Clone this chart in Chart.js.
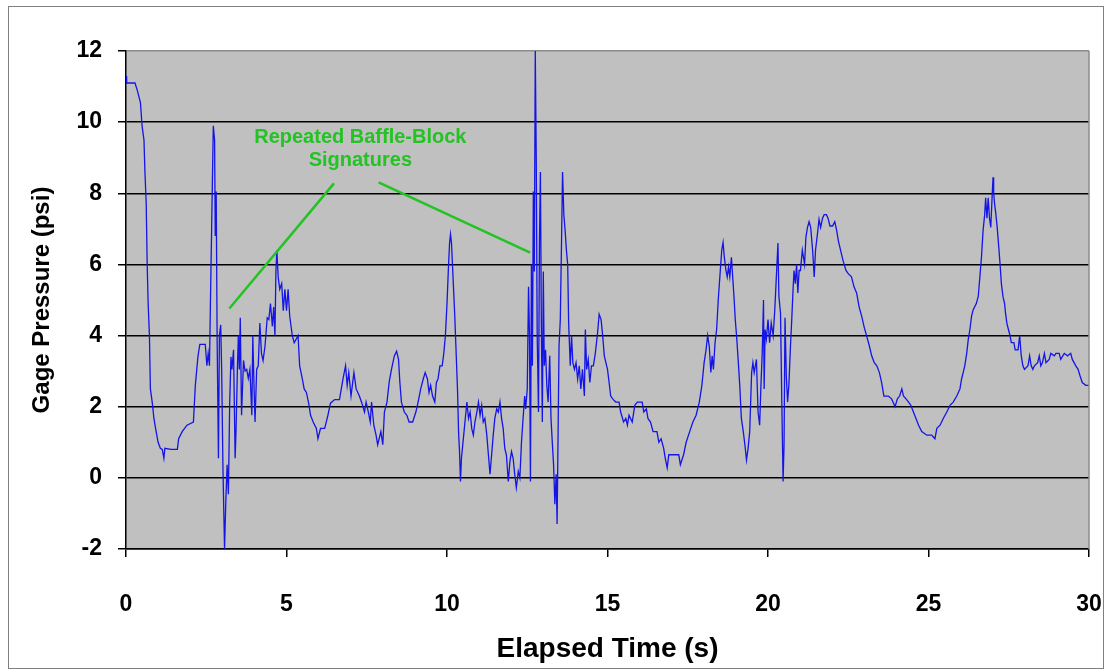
<!DOCTYPE html>
<html>
<head>
<meta charset="utf-8">
<script src="https://cdn.jsdelivr.net/npm/chart.js@4.4.1/dist/chart.umd.min.js"></script>
<style>
  html, body { margin: 0; padding: 0; background: #fff; }
  #wrap { width: 1112px; height: 670px; position: relative; }
</style>
</head>
<body>
<div id="wrap"><canvas id="pressure"></canvas></div>
<script>
// elapsed time (s) and gage pressure (psi)
const timeS = [
  0.00, 0.02, 0.28, 0.35, 0.45, 0.50, 0.56, 0.59, 0.63, 0.66, 0.69, 0.73, 0.76, 0.82, 0.87, 0.92,
  1.00, 1.07, 1.13, 1.18, 1.21, 1.40, 1.60, 1.64, 1.75, 1.90, 2.10, 2.16, 2.24, 2.30, 2.47, 2.52,
  2.56, 2.60, 2.63, 2.68, 2.72, 2.76, 2.78, 2.81, 2.84, 2.88, 2.91, 2.95, 2.98, 3.02, 3.05, 3.07,
  3.11, 3.15, 3.19, 3.23, 3.27, 3.30, 3.35, 3.40, 3.43, 3.47, 3.50, 3.53, 3.56, 3.60, 3.66, 3.71,
  3.76, 3.81, 3.86, 3.92, 3.95, 3.99, 4.02, 4.07, 4.12, 4.17, 4.22, 4.27, 4.33, 4.40, 4.45, 4.50,
  4.56, 4.60, 4.64, 4.67, 4.70, 4.74, 4.79, 4.85, 4.90, 4.95, 5.00, 5.05, 5.10, 5.18, 5.24, 5.36,
  5.41, 5.49, 5.55, 5.62, 5.69, 5.75, 5.83, 5.93, 5.98, 6.06, 6.19, 6.29, 6.37, 6.50, 6.65, 6.76,
  6.84, 6.89, 6.94, 7.01, 7.10, 7.17, 7.27, 7.35, 7.43, 7.48, 7.55, 7.61, 7.65, 7.72, 7.79, 7.84,
  7.94, 8.00, 8.05, 8.13, 8.20, 8.27, 8.36, 8.43, 8.49, 8.53, 8.58, 8.67, 8.75, 8.82, 8.93, 9.03,
  9.10, 9.18, 9.26, 9.32, 9.39, 9.44, 9.49, 9.55, 9.62, 9.67, 9.72, 9.78, 9.85, 9.90, 9.95, 10.00,
  10.04, 10.08, 10.11, 10.14, 10.17, 10.21, 10.24, 10.29, 10.33, 10.36, 10.39, 10.42, 10.45, 10.52, 10.57, 10.62,
  10.67, 10.72, 10.77, 10.82, 10.87, 10.93, 10.98, 11.03, 11.08, 11.13, 11.18, 11.24, 11.29, 11.34, 11.39, 11.44,
  11.49, 11.55, 11.60, 11.65, 11.70, 11.75, 11.80, 11.85, 11.91, 11.96, 12.01, 12.06, 12.11, 12.16, 12.22, 12.27,
  12.32, 12.37, 12.42, 12.45, 12.50, 12.54, 12.57, 12.60, 12.63, 12.66, 12.69, 12.72, 12.75, 12.78, 12.81, 12.85,
  12.88, 12.91, 12.94, 12.97, 13.00, 13.03, 13.07, 13.11, 13.15, 13.20, 13.24, 13.28, 13.32, 13.36, 13.40, 13.43,
  13.46, 13.49, 13.53, 13.57, 13.60, 13.64, 13.68, 13.72, 13.76, 13.79, 13.84, 13.88, 13.92, 13.97, 14.02, 14.07,
  14.12, 14.17, 14.22, 14.28, 14.31, 14.35, 14.40, 14.45, 14.50, 14.56, 14.62, 14.69, 14.74, 14.80, 14.85, 14.90,
  15.00, 15.05, 15.10, 15.18, 15.26, 15.36, 15.41, 15.50, 15.57, 15.62, 15.67, 15.77, 15.85, 15.93, 16.08, 16.13,
  16.21, 16.26, 16.34, 16.42, 16.54, 16.60, 16.67, 16.75, 16.80, 16.86, 16.91, 17.06, 17.22, 17.27, 17.37, 17.45,
  17.56, 17.66, 17.76, 17.86, 17.94, 18.01, 18.07, 18.12, 18.17, 18.22, 18.26, 18.30, 18.35, 18.40, 18.45, 18.50,
  18.56, 18.60, 18.64, 18.69, 18.73, 18.77, 18.81, 18.86, 18.90, 18.94, 18.98, 19.02, 19.07, 19.12, 19.17, 19.23,
  19.28, 19.33, 19.38, 19.43, 19.46, 19.49, 19.53, 19.57, 19.64, 19.69, 19.74, 19.78, 19.82, 19.86, 19.88, 19.91,
  19.95, 20.00, 20.05, 20.10, 20.16, 20.21, 20.26, 20.31, 20.34, 20.39, 20.43, 20.47, 20.50, 20.53, 20.57, 20.61,
  20.65, 20.70, 20.74, 20.78, 20.81, 20.85, 20.89, 20.93, 20.97, 21.01, 21.07, 21.14, 21.18, 21.23, 21.28, 21.33,
  21.39, 21.44, 21.48, 21.54, 21.59, 21.64, 21.70, 21.75, 21.82, 21.87, 21.93, 22.01, 22.08, 22.14, 22.19, 22.26,
  22.34, 22.43, 22.50, 22.60, 22.68, 22.76, 22.84, 22.92, 22.99, 23.07, 23.16, 23.23, 23.31, 23.39, 23.47, 23.54,
  23.61, 23.75, 23.85, 23.96, 24.03, 24.10, 24.17, 24.22, 24.30, 24.38, 24.45, 24.53, 24.61, 24.69, 24.79, 24.95,
  25.10, 25.20, 25.26, 25.36, 25.46, 25.57, 25.67, 25.77, 25.88, 25.98, 26.03, 26.08, 26.13, 26.19, 26.24, 26.29,
  26.34, 26.39, 26.49, 26.55, 26.60, 26.65, 26.70, 26.75, 26.78, 26.82, 26.86, 26.90, 26.94, 26.98, 27.01, 27.03,
  27.06, 27.10, 27.14, 27.19, 27.23, 27.27, 27.32, 27.37, 27.40, 27.44, 27.49, 27.54, 27.58, 27.66, 27.70, 27.79,
  27.84, 27.89, 27.94, 27.99, 28.10, 28.15, 28.20, 28.25, 28.30, 28.40, 28.45, 28.50, 28.55, 28.61, 28.66, 28.76,
  28.81, 28.92, 28.97, 29.07, 29.12, 29.23, 29.33, 29.43, 29.48, 29.59, 29.66, 29.72, 29.79, 29.90, 30.00
];
const pressurePsi = [
  11.3, 11.1, 11.1, 10.9, 10.55, 9.9, 9.5, 8.6, 7.7, 6.0, 4.9, 4.0, 2.5, 2.1, 1.67, 1.4,
  1.0, 0.83, 0.8, 0.55, 0.83, 0.8, 0.8, 1.1, 1.3, 1.48, 1.57, 2.6, 3.4, 3.75, 3.75, 3.15,
  3.5, 3.15, 4.9, 7.7, 9.9, 9.5, 6.8, 8.05, 3.8, 0.55, 4.0, 4.3, 3.05, 0.3, -1.1, -2.0,
  -0.65, 0.37, -0.46, 2.1, 3.4, 3.05, 3.6, 0.55, 1.4, 3.05, 4.0, 3.05, 4.5, 1.76, 3.3, 3.0,
  3.05, 2.8, 3.05, 1.76, 4.0, 2.5, 1.57, 3.05, 3.15, 4.35, 3.5, 3.3, 3.7, 4.5, 4.45, 4.9,
  4.26, 4.8, 4.0, 5.8, 6.4, 5.65, 5.3, 5.46, 4.7, 5.3, 4.7, 5.3, 4.55, 4.0, 3.8, 4.0,
  3.15, 2.8, 2.5, 2.4, 2.1, 1.76, 1.57, 1.39, 1.1, 1.39, 1.39, 1.76, 2.1, 2.2, 2.2, 2.78,
  3.15, 2.6, 2.96, 2.3, 2.96, 2.5, 2.3, 2.1, 1.85, 2.13, 1.85, 1.57, 2.13, 1.48, 1.2, 0.93,
  1.3, 0.93, 1.85, 2.13, 2.7, 3.05, 3.43, 3.56, 3.33, 2.7, 2.13, 1.85, 1.76, 1.57, 1.57, 1.85,
  2.13, 2.5, 2.78, 2.96, 2.78, 2.4, 2.6, 2.3, 2.13, 2.68, 2.78, 3.15, 3.15, 3.5, 4.0, 4.9,
  5.8, 6.6, 6.85, 6.6, 6.0, 5.2, 4.6, 3.4, 2.4, 1.3, 0.74, -0.1, 0.55, 1.2, 1.67, 2.13,
  1.67, 1.85, 1.39, 1.2, 1.57, 1.85, 2.13, 1.76, 2.04, 1.57, 1.67, 1.2, 0.65, 0.1, 0.65, 1.2,
  1.67, 1.94, 1.85, 2.13, 1.67, 1.39, 0.83, 0.65, -0.1, 0.46, 0.74, 0.55, 0.1, -0.28, 0.18, 0.0,
  1.0, 1.67, 2.3, 1.94, 2.5, 5.37, 4.0, -0.1, 6.0, 3.15, 8.05, 5.8, 12.0, 9.07, 4.0, 1.85,
  6.6, 8.6, 4.26, 1.57, 5.8, 3.15, 3.6, 2.6, 2.13, 3.43, 1.67, 1.0, 0.37, -0.74, 0.1, -1.3,
  1.2, 3.7, 4.45, 6.76, 8.6, 7.4, 6.95, 6.4, 6.0, 4.35, 3.15, 4.0, 3.24, 3.05, 3.24, 2.78,
  3.15, 2.5, 3.05, 2.3, 4.17, 3.05, 3.33, 2.68, 3.15, 3.15, 3.5, 4.07, 4.6, 4.45, 4.0, 3.43,
  3.05, 2.68, 2.3, 2.2, 2.13, 2.13, 1.85, 1.57, 1.67, 1.48, 1.76, 1.57, 2.04, 2.13, 2.13, 1.85,
  1.94, 1.67, 1.57, 1.3, 1.3, 1.0, 1.1, 0.83, 0.55, 0.28, 0.65, 0.65, 0.65, 0.37, 0.65, 1.0,
  1.3, 1.57, 1.76, 2.13, 2.6, 3.24, 3.6, 4.0, 3.7, 2.96, 3.43, 3.05, 3.8, 4.17, 5.0, 5.65,
  6.4, 6.62, 6.2, 5.83, 5.65, 5.93, 5.65, 6.2, 5.65, 5.1, 4.45, 4.0, 3.33, 2.6, 1.67, 1.3,
  0.93, 0.5, 0.83, 1.3, 2.13, 2.96, 3.24, 2.96, 3.33, 1.85, 1.48, 2.6, 3.5, 5.0, 2.5, 4.17,
  3.9, 4.45, 3.8, 4.35, 4.0, 4.7, 5.65, 6.6, 5.1, 4.63, 2.13, -0.1, 0.93, 4.5, 2.87, 2.13,
  2.6, 3.7, 4.45, 5.28, 5.83, 5.46, 6.0, 5.2, 5.83, 5.83, 6.4, 6.0, 6.76, 7.04, 7.2, 7.04,
  6.4, 5.65, 6.4, 6.85, 7.27, 7.04, 7.3, 7.4, 7.4, 7.3, 7.08, 7.08, 7.2, 6.95, 6.67, 6.4,
  6.1, 5.83, 5.74, 5.65, 5.37, 5.2, 4.8, 4.54, 4.26, 4.0, 3.7, 3.43, 3.24, 3.15, 2.96, 2.68,
  2.3, 2.3, 2.22, 2.0, 2.22, 2.3, 2.5, 2.3, 2.22, 2.13, 2.04, 1.85, 1.67, 1.48, 1.3, 1.2,
  1.2, 1.1, 1.39, 1.48, 1.67, 1.85, 2.04, 2.13, 2.3, 2.5, 2.78, 2.96, 3.15, 3.5, 3.9, 4.17,
  4.54, 4.72, 4.9, 5.1, 5.65, 6.2, 6.95, 7.4, 7.87, 7.3, 7.87, 7.3, 7.04, 7.87, 8.45, 8.0,
  7.7, 7.4, 7.04, 6.48, 6.0, 5.46, 5.1, 4.9, 4.63, 4.35, 4.17, 4.0, 3.8, 3.8, 3.6, 3.6,
  4.0, 3.43, 3.15, 3.05, 3.15, 3.43, 3.15, 3.05, 3.15, 3.24, 3.43, 3.15, 3.24, 3.5, 3.24, 3.33,
  3.5, 3.43, 3.5, 3.5, 3.33, 3.5, 3.43, 3.5, 3.33, 3.15, 3.05, 2.87, 2.68, 2.6, 2.6
];

const xTickValues = [0, 5, 10, 15, 20, 25, 30];
const yTickValues = [-2, 0, 2, 4, 6, 8, 10, 12];

// annotation: text anchor and the two pointer lines, in data units (s, psi)
const noteText = ['Repeated Baffle-Block', 'Signatures'];
const noteAnchor = [7.3, 9.57];
const notePointers = [
  [[3.22, 4.76], [6.48, 8.28]],
  [[7.87, 8.31], [12.59, 6.33]]
];

const FONT = "'Liberation Sans', Arial, sans-serif";

const chartDecor = {
  id: 'chartDecor',
  beforeDraw(chart) {
    const {ctx, chartArea: a} = chart;
    ctx.save();
    ctx.fillStyle = '#c0c0c0';
    ctx.fillRect(a.left, a.top, a.right - a.left, a.bottom - a.top);
    // outer frame
    ctx.strokeStyle = '#808080';
    ctx.lineWidth = 1;
    ctx.strokeRect(8.5, 6.5, 1095, 662);
    ctx.restore();
  },
  afterDraw(chart) {
    const {ctx, chartArea: a, scales: {x, y}} = chart;
    ctx.save();
    // right edge of the plot
    ctx.strokeStyle = '#8c8c8c';
    ctx.lineWidth = 1.5;
    ctx.beginPath();
    ctx.moveTo(a.right, a.top);
    ctx.lineTo(a.right, a.bottom);
    ctx.stroke();

    ctx.strokeStyle = '#22c322';
    ctx.lineWidth = 2.5;
    notePointers.forEach(([p0, p1]) => {
      ctx.beginPath();
      ctx.moveTo(x.getPixelForValue(p0[0]), y.getPixelForValue(p0[1]));
      ctx.lineTo(x.getPixelForValue(p1[0]), y.getPixelForValue(p1[1]));
      ctx.stroke();
    });
    ctx.fillStyle = '#22c322';
    ctx.font = 'bold 20px ' + FONT;
    ctx.textAlign = 'center';
    ctx.textBaseline = 'middle';
    const cx = x.getPixelForValue(noteAnchor[0]);
    const cy = y.getPixelForValue(noteAnchor[1]);
    ctx.fillText(noteText[0], cx, cy);
    ctx.fillText(noteText[1], cx, cy + 23);
    ctx.restore();
  }
};

new Chart(document.getElementById('pressure'), {
  type: 'line',
  data: {
    datasets: [{
      label: 'Gage Pressure',
      data: timeS.map((t, i) => ({x: t, y: pressurePsi[i]})),
      borderColor: '#1414e6',
      borderWidth: 1.3,
      pointRadius: 0,
      tension: 0,
      fill: false
    }]
  },
  options: {
    responsive: true,
    maintainAspectRatio: false,
    animation: false,
    layout: {padding: {top: 51, right: 23, bottom: 4, left: 0}},
    plugins: {legend: {display: false}, tooltip: {enabled: false}},
    scales: {
      x: {
        type: 'linear',
        min: 0, max: 30,
        afterBuildTicks: s => { s.ticks = xTickValues.map(v => ({value: v})); },
        afterFit: s => {
          s.height = 117;
          // keep the big label gap from widening the side padding
          s.paddingLeft = 12;
          s.paddingRight = 12;
        },
        grid: {drawOnChartArea: false, drawTicks: true, tickLength: 8, tickColor: '#000', lineWidth: 1.5},
        border: {color: '#000', width: 1.5},
        ticks: {color: '#000', font: {family: FONT, size: 23, weight: 'bold'}, padding: 34, maxRotation: 0},
        title: {display: true, text: 'Elapsed Time (s)', color: '#000',
                font: {family: FONT, size: 28, weight: 'bold'}, padding: {top: 0, bottom: 0}}
      },
      y: {
        min: -2, max: 12,
        afterBuildTicks: s => { s.ticks = yTickValues.map(v => ({value: v})); },
        afterFit: s => { s.width = 126; },
        grid: {
          color: c => (c.tick && c.tick.value === 12) ? '#8c8c8c' : '#000',
          lineWidth: 1.5, tickLength: 8, tickColor: '#000'
        },
        border: {color: '#000', width: 1.5},
        ticks: {color: '#000', font: {family: FONT, size: 23, weight: 'bold'}, padding: 16},
        title: {display: true, text: 'Gage Pressure (psi)', color: '#000',
                font: {family: FONT, size: 24, weight: 'bold'}, padding: {top: 28, bottom: 0}}
      }
    }
  },
  plugins: [chartDecor]
});
</script>
</body>
</html>
